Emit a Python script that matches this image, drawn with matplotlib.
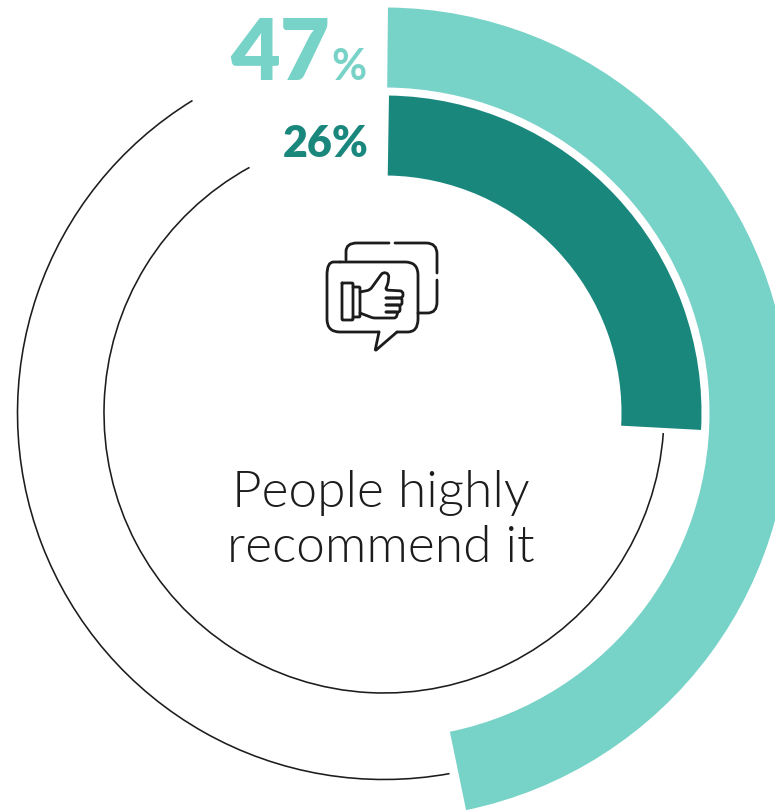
import matplotlib
matplotlib.use('Agg')
import matplotlib.pyplot as plt
import matplotlib.font_manager as fm
from matplotlib.patches import Arc, PathPatch
from matplotlib.path import Path
import numpy as np

# arc shares as measured on the picture, the labels round them
outer_value = 46.6
inner_value = 25.6
outer_label = "47"
inner_label = "26%"
caption = ["People highly", "recommend it"]

# thin rest-of-circle lines, clockwise degrees from 12 o'clock
outer_line_span = [169.7, 328.5]
inner_line_span = [94.1, 331.3]

light = '#77d2c8'
dark = '#1a877d'
ink = '#1c1c1c'

W, H = 775, 811
cx, cy = 384, H - 413

fig = plt.figure(figsize=(W/100, H/100), dpi=100)
ax = fig.add_axes([0, 0, 1, 1])


def py(y):
    # picture y (top down) to axes y
    return H - y


def ring(value, r_out, r_in, color, start):
    ax.pie([value, 100 - value], colors=[color, 'none'], center=(cx, cy), radius=r_out,
           startangle=90 - start, counterclock=False, frame=True,
           wedgeprops=dict(width=r_out - r_in, linewidth=0))


def thin(r, span):
    # Arc goes counterclockwise, so swap the ends
    ax.add_patch(Arc((cx, cy), 2*r, 2*r, theta1=90 - span[1], theta2=90 - span[0],
                     color=ink, linewidth=1.15))


def soft_line(seg, r):
    # polyline with its inner corners rounded off
    pts = [np.array((p[0], py(p[1])), dtype=float) for p in seg]
    verts = [pts[0]]
    codes = [Path.MOVETO]
    for a, b, c in zip(pts[:-2], pts[1:-1], pts[2:]):
        d1 = min(r, np.linalg.norm(a - b) / 2)
        d2 = min(r, np.linalg.norm(c - b) / 2)
        verts += [b + (a - b) / np.linalg.norm(a - b) * d1, b, b + (c - b) / np.linalg.norm(c - b) * d2]
        codes += [Path.LINETO, Path.CURVE3, Path.CURVE3]
    verts.append(pts[-1])
    codes.append(Path.LINETO)
    ax.add_patch(PathPatch(Path(verts, codes), fill=False, edgecolor=ink, linewidth=2.0,
                           capstyle='round', joinstyle='round'))


ring(outer_value, 405.5, 325.5, light, 0.56)
ring(inner_value, 317.5, 237.5, dark, 0.9)
thin(366.5, outer_line_span)
thin(280, inner_line_span)

light_files = [f.fname for f in fm.fontManager.ttflist if 'Lato-Light.' in f.fname]
caption_font = fm.FontProperties(fname=light_files[0], size=37) if light_files else fm.FontProperties(family='Lato', size=36)

ax.text(330, py(80), outer_label, color=light, fontsize=62, fontweight='heavy', family='Lato', ha='right', va='baseline')
ax.text(331, py(80), "%", color=light, fontsize=31, fontweight='bold', family='Lato', ha='left', va='baseline')
ax.text(369, py(157), inner_label, color=dark, fontsize=31, fontweight='heavy', family='Lato', ha='right', va='baseline')
ax.text(381, py(507), caption[0], color=ink, fontproperties=caption_font, ha='center', va='baseline')
ax.text(381, py(562), caption[1], color=ink, fontproperties=caption_font, ha='center', va='baseline')

# thumbs-up icon
icon_lines = [
    ([(346, 260), (346, 243), (389, 243)], 11),
    ([(395, 243), (437, 243), (437, 273)], 11),
    ([(437, 280), (437, 313), (418, 313)], 11),
    # front bubble outline
    ([(340, 262), (418, 262), (418, 332), (397, 332)], 13),
    ([(397, 332), (375, 351), (379, 332)], 2),
    ([(379, 332), (327, 332), (327, 262), (340, 262)], 13),
    # cuff
    ([(342, 283), (353, 283), (353, 320), (342, 320), (342, 283)], 1),
    ([(353, 287), (360, 287), (360, 317), (353, 317)], 1),
    # hand
    ([(360, 292), (370, 290), (383, 272), (389, 274), (388, 284), (385, 290), (403, 291), (403, 298), (386, 298)], 3),
    ([(386, 298), (402, 298), (402, 305), (386, 305)], 2),
    ([(386, 305), (400, 305), (400, 312), (386, 312)], 2),
    ([(386, 312), (398, 312), (396, 318), (373, 318), (360, 313)], 2),
]
for seg, r in icon_lines:
    soft_line(seg, r)

ax.set_xlim(0, W)
ax.set_ylim(0, H)
ax.set_aspect('equal')
ax.axis('off')

fig.savefig('out.png', dpi=100)
